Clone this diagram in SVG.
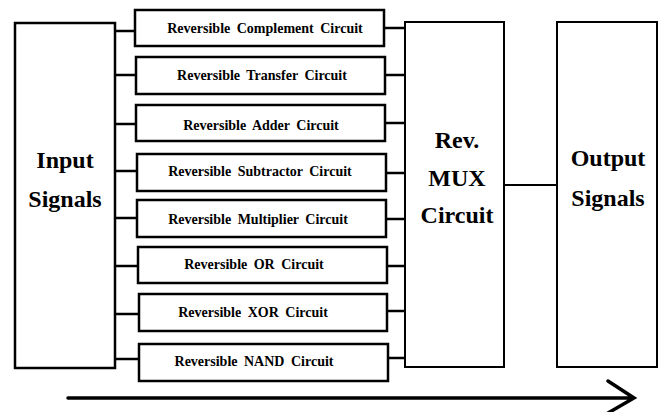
<svg xmlns="http://www.w3.org/2000/svg" width="661" height="412" viewBox="0 0 661 412">
<style>
.box{fill:#fff;stroke:#000;stroke-width:2.5}
.big{fill:none;stroke:#000;stroke-width:2}
.lbl{font-family:"Liberation Serif","Times New Roman",serif;font-weight:bold;font-size:14px;text-anchor:middle;fill:#000;word-spacing:3px}
.hd{font-family:"Liberation Serif","Times New Roman",serif;font-weight:bold;font-size:24px;text-anchor:middle;fill:#000}
.wire{stroke:#000;stroke-width:2.5;fill:none}
</style>
<rect width="661" height="412" fill="#fff"/>
<g id="connectors">
<path class="wire" d="M115 31H135 M115 75H136 M115 124H136 M115 171H137 M115 218H137 M115 266H138 M115 314H139 M115 359H139"/>
<path class="wire" d="M384 28H405 M385 75H405 M385 123H405 M386 173H405 M386 219H405 M387 266H405 M387 311H405 M388 358H405"/>
<path stroke="#000" stroke-width="2" d="M504 185H557"/>
<path stroke="#000" stroke-width="3.5" stroke-linecap="round" fill="none" d="M68 398H634 M608 381L634 398L608 413"/>
</g>
<g id="input"><rect class="box" x="15" y="23" width="100" height="345"/><text class="hd" x="65" y="168">Input</text><text class="hd" x="65" y="207">Signals</text></g>
<g id="c1"><rect class="box" x="135" y="10" width="249" height="36"/><text class="lbl" x="265" y="33">Reversible Complement Circuit</text></g>
<g id="c2"><rect class="box" x="136" y="57" width="249" height="37"/><text class="lbl" x="262" y="80">Reversible Transfer Circuit</text></g>
<g id="c3"><rect class="box" x="136" y="105" width="249" height="36"/><text class="lbl" x="261" y="130">Reversible Adder Circuit</text></g>
<g id="c4"><rect class="box" x="137" y="154" width="249" height="37"/><text class="lbl" x="260" y="176">Reversible Subtractor Circuit</text></g>
<g id="c5"><rect class="box" x="137" y="200" width="249" height="37"/><text class="lbl" x="258" y="224">Reversible Multiplier Circuit</text></g>
<g id="c6"><rect class="box" x="138" y="247" width="249" height="36"/><text class="lbl" x="254" y="269">Reversible OR Circuit</text></g>
<g id="c7"><rect class="box" x="139" y="294" width="248" height="37"/><text class="lbl" x="253" y="317">Reversible XOR Circuit</text></g>
<g id="c8"><rect class="box" x="139" y="344" width="249" height="37"/><text class="lbl" x="254" y="366">Reversible NAND Circuit</text></g>
<g id="mux"><rect class="big" x="405" y="22" width="99" height="345"/><text class="hd" x="457" y="148">Rev.</text><text class="hd" x="457" y="186">MUX</text><text class="hd" x="457" y="223">Circuit</text></g>
<g id="output"><rect class="big" x="557" y="22" width="100" height="345"/><text class="hd" x="608" y="166">Output</text><text class="hd" x="608" y="206">Signals</text></g>
</svg>
